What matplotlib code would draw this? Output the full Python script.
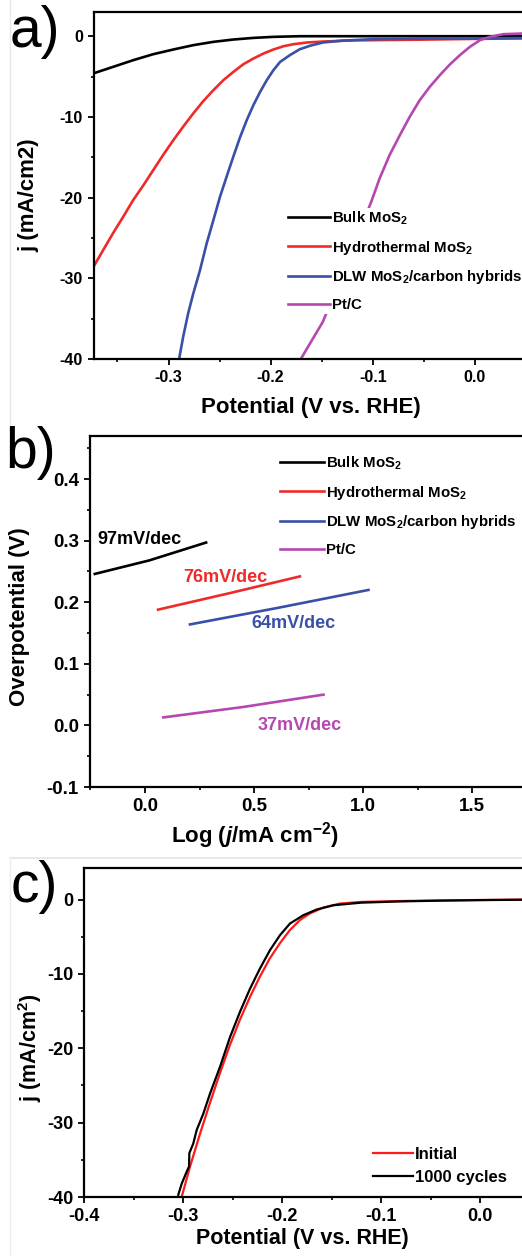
import matplotlib
matplotlib.use("Agg")
import matplotlib.pyplot as plt
from matplotlib.ticker import MultipleLocator
from matplotlib.lines import Line2D

plt.rcParams["font.family"] = ["Liberation Sans", "DejaVu Sans"]
plt.rcParams["font.weight"] = "bold"
plt.rcParams["axes.labelweight"] = "bold"
plt.rcParams["axes.unicode_minus"] = False
plt.rcParams["mathtext.fontset"] = "custom"
plt.rcParams["mathtext.rm"] = "Liberation Sans:bold"
plt.rcParams["mathtext.bf"] = "Liberation Sans:bold"
plt.rcParams["mathtext.it"] = "Liberation Sans:bold:italic"

# colores
BLACK = "#000000"
RED = "#ee2a2a"
BLUE = "#3a4fa8"
MAGENTA = "#b548b0"

# ---- datos panel a (polarizacion)
a_bulk_x = [-0.3739, -0.3543, -0.3346, -0.315, -0.2954, -0.2758, -0.2561, -0.2365, -0.2169, -0.1973,
            -0.171, -0.1, 0.0, 0.064]
a_bulk_y = [-4.62, -3.8, -2.97, -2.23, -1.65, -1.11, -0.70, -0.41, -0.21, -0.08,
            0.0, 0.0, 0.0, 0.0]
a_hydro_x = [-0.3739, -0.364, -0.3543, -0.3445, -0.3346, -0.3248, -0.315, -0.3052, -0.2954, -0.2856,
             -0.2758, -0.266, -0.2561, -0.2463, -0.2365, -0.2267, -0.2169, -0.2071, -0.1973, -0.1874,
             -0.1776, -0.1646, -0.1482, -0.12, -0.05, 0.0, 0.064]
a_hydro_y = [-28.65, -26.5, -24.4, -22.4, -20.3, -18.5, -16.6, -14.7, -12.9, -11.2,
             -9.57, -8.05, -6.69, -5.45, -4.42, -3.47, -2.77, -2.15, -1.65, -1.24,
             -0.99, -0.78, -0.66, -0.52, -0.42, -0.33, -0.25]
a_dlw_x = [-0.2895, -0.2856, -0.2807, -0.2758, -0.2692, -0.2627, -0.2561, -0.2496, -0.2431, -0.2365,
           -0.2299, -0.2234, -0.2169, -0.2103, -0.2038, -0.1973, -0.1907, -0.1812, -0.1717, -0.1619,
           -0.1489, -0.1292, -0.0998, -0.0507, 0.0, 0.064]
a_dlw_y = [-39.9, -37.2, -34.3, -31.9, -29.0, -25.7, -22.8, -19.9, -17.4, -14.9,
           -12.5, -10.4, -8.54, -6.9, -5.45, -4.21, -3.18, -2.35, -1.63, -1.2,
           -0.78, -0.54, -0.37, -0.29, -0.29, -0.2]
a_ptc_x = [-0.170, -0.1489, -0.125, -0.1014, -0.0932, -0.0834, -0.0736, -0.0638, -0.054, -0.0442,
           -0.0343, -0.0245, -0.0147, -0.0049, 0.0049, 0.0147, 0.0278, 0.046, 0.064]
a_ptc_y = [-39.9, -35.4, -28.0, -20.5, -17.6, -14.7, -12.3, -9.99, -7.93, -6.28,
           -4.83, -3.5, -2.35, -1.32, -0.5, -0.08, 0.25, 0.33, 0.35]

# ---- datos panel b (Tafel)
b_bulk_x = [-0.23, 0.02, 0.28]
b_bulk_y = [0.246, 0.268, 0.297]
b_hydro_x = [0.06, 0.39, 0.71]
b_hydro_y = [0.188, 0.215, 0.242]
b_dlw_x = [0.206, 0.61, 1.024]
b_dlw_y = [0.164, 0.191, 0.220]
b_ptc_x = [0.084, 0.451, 0.818]
b_ptc_y = [0.013, 0.030, 0.050]
b_slopes = ["97mV/dec", "76mV/dec", "64mV/dec", "37mV/dec"]

# ---- datos panel c (estabilidad)
c_init_x = [-0.3015, -0.2931, -0.283, -0.2731, -0.263, -0.2529, -0.2428, -0.2325, -0.2226, -0.2125,
            -0.2024, -0.1923, -0.1822, -0.1721, -0.1583, -0.1414, -0.12, -0.08, -0.04, 0.0, 0.061]
c_init_y = [-39.97, -35.9, -31.5, -27.4, -23.4, -19.6, -16.2, -13.1, -10.4, -7.93,
            -5.91, -4.13, -2.78, -1.88, -1.08, -0.54, -0.32, -0.2, -0.12, -0.06, 0.0]
c_cyc_x = [-0.305, -0.3015, -0.2965, -0.2941, -0.2938, -0.2898, -0.2864, -0.2797, -0.2729, -0.2628,
           -0.2527, -0.2426, -0.2325, -0.2224, -0.2123, -0.2022, -0.1921, -0.1786, -0.165, -0.1482,
           -0.12, -0.08, -0.04, 0.0, 0.061]
c_cyc_y = [-39.7, -38.2, -36.6, -35.9, -34.1, -32.8, -31.0, -28.8, -26.1, -22.5,
           -18.5, -15.1, -12.0, -9.27, -6.81, -4.80, -3.23, -2.11, -1.34, -0.77,
           -0.42, -0.25, -0.15, -0.08, 0.0]

labels = ["Bulk MoS$_2$", "Hydrothermal MoS$_2$", "DLW MoS$_2$/carbon hybrids", "Pt/C"]

W, H = 522, 1256
fig = plt.figure(figsize=(W / 100, H / 100), dpi=100)


def px_axes(l, t, r, b):
    return fig.add_axes([l / W, 1 - b / H, (r - l) / W, (b - t) / H])


def style(ax, tsize):
    for s in ["left", "bottom", "top"]:
        ax.spines[s].set_linewidth(1.6)
    ax.spines["right"].set_visible(False)
    ax.tick_params(which="major", direction="out", length=4, width=1.3, labelsize=tsize, pad=4)
    ax.tick_params(which="minor", direction="out", length=2.5, width=1.2)
    ax.tick_params(top=False, right=False)


lw = 1.9

# ---------------- a)
ax = px_axes(94, 12, 540, 359)
ax.plot(a_bulk_x, a_bulk_y, color=BLACK, lw=lw, label=labels[0])
ax.plot(a_hydro_x, a_hydro_y, color=RED, lw=lw, label=labels[1])
ax.plot(a_dlw_x, a_dlw_y, color=BLUE, lw=lw, label=labels[2])
ax.plot(a_ptc_x, a_ptc_y, color=MAGENTA, lw=lw, label=labels[3])
ax.set_xlim(-0.373, 0.0638)
ax.set_ylim(-40, 3)
ax.xaxis.set_major_locator(MultipleLocator(0.1))
ax.xaxis.set_minor_locator(MultipleLocator(0.05))
ax.yaxis.set_major_locator(MultipleLocator(10))
ax.yaxis.set_minor_locator(MultipleLocator(5))
ax.xaxis.set_major_formatter(plt.FuncFormatter(lambda v, p: f"{v:.1f}"))
style(ax, 11.5)
ax.set_xlabel("Potential (V vs. RHE)", fontsize=16)
ax.set_ylabel("j (mA/cm2)", fontsize=16)
ax.xaxis.set_label_coords((311 - 94) / 446, (359 - 397) / 347)
ax.yaxis.set_label_coords((39 - 94) / 446, (359 - 195) / 347)
ax.legend(loc="upper left", bbox_to_anchor=((286 - 94) / 446, (359 - 208) / 347),
          borderaxespad=0, borderpad=0.1, frameon=True, facecolor="white", edgecolor="none",
          framealpha=1, fancybox=False, fontsize=10.8, handlelength=2.8, handletextpad=0.15,
          labelspacing=0.78)

# ---------------- b)
ax = px_axes(90, 436, 540, 787)
ax.plot(b_bulk_x, b_bulk_y, color=BLACK, lw=lw, label=labels[0])
ax.plot(b_hydro_x, b_hydro_y, color=RED, lw=lw, label=labels[1])
ax.plot(b_dlw_x, b_dlw_y, color=BLUE, lw=lw, label=labels[2])
ax.plot(b_ptc_x, b_ptc_y, color=MAGENTA, lw=lw, label=labels[3])
ax.set_xlim(-0.252, 1.81)
ax.set_ylim(-0.1, 0.47)
ax.xaxis.set_major_locator(MultipleLocator(0.5))
ax.xaxis.set_minor_locator(MultipleLocator(0.25))
ax.yaxis.set_major_locator(MultipleLocator(0.1))
ax.yaxis.set_minor_locator(MultipleLocator(0.05))
ax.xaxis.set_major_formatter(plt.FuncFormatter(lambda v, p: f"{v:.1f}"))
ax.yaxis.set_major_formatter(plt.FuncFormatter(lambda v, p: f"{v:.1f}"))
style(ax, 13.5)
ax.set_xlabel(r"Log ($\it{j}$/mA cm$^{-2}$)", fontsize=16)
ax.set_ylabel("Overpotential (V)", fontsize=16)
ax.xaxis.set_label_coords((255 - 90) / 450, (787 - 820) / 351)
ax.yaxis.set_label_coords((30 - 90) / 450, (787 - 617) / 351)
ax.text(-0.22, 0.302, b_slopes[0], color=BLACK, fontsize=13, va="center", ha="left")
ax.text(0.174, 0.240, b_slopes[1], color=RED, fontsize=13, va="center", ha="left")
ax.text(0.489, 0.166, b_slopes[2], color=BLUE, fontsize=13, va="center", ha="left")
ax.text(0.518, 0.0, b_slopes[3], color=MAGENTA, fontsize=13, va="center", ha="left")
ax.legend(loc="upper left", bbox_to_anchor=((279 - 90) / 450, (787 - 453) / 351),
          borderaxespad=0, borderpad=0.1, frameon=False, fontsize=10.8, handlelength=2.9,
          handletextpad=0.15, labelspacing=0.78)

# ---------------- c)
ax = px_axes(84.3, 868.3, 540, 1197)
ax.plot(c_init_x, c_init_y, color="#ff1a1a", lw=1.6, label="Initial")
ax.plot(c_cyc_x, c_cyc_y, color=BLACK, lw=1.6, label="1000 cycles")
ax.set_xlim(-0.4, 0.0607)
ax.set_ylim(-40, 4.2)
ax.xaxis.set_major_locator(MultipleLocator(0.1))
ax.xaxis.set_minor_locator(MultipleLocator(0.05))
ax.yaxis.set_major_locator(MultipleLocator(10))
ax.yaxis.set_minor_locator(MultipleLocator(5))
ax.xaxis.set_major_formatter(plt.FuncFormatter(lambda v, p: f"{v:.1f}"))
style(ax, 13)
ax.set_xlabel("Potential (V vs. RHE)", fontsize=15.5)
ax.set_ylabel(r"j (mA/cm$^2$)", fontsize=15.5)
ax.xaxis.set_label_coords((302 - 84.3) / 455.7, (1197 - 1228) / 328.7)
ax.yaxis.set_label_coords((44 - 84.3) / 455.7, (1197 - 1048) / 328.7)
ax.legend(loc="upper left", bbox_to_anchor=((371 - 84.3) / 455.7, (1197 - 1145) / 328.7),
          borderaxespad=0, borderpad=0.1, frameon=True, facecolor="white", edgecolor="none",
          framealpha=1, fancybox=False, fontsize=12, handlelength=2.4, handletextpad=0.15,
          labelspacing=0.5)

# letras de panel
fig.text(10 / W, 1 - 5 / H, "a)", fontsize=41, fontweight="normal", va="top", ha="left")
fig.text(5 / W, 1 - 426 / H, "b)", fontsize=41, fontweight="normal", va="top", ha="left")
fig.text(11 / W, 1 - 860 / H, "c)", fontsize=41, fontweight="normal", va="top", ha="left")

# bordes tenues de la captura
fig.add_artist(Line2D([10 / W, 10 / W], [1, 1 - 424 / H], color="#e8e8e8", lw=1))
fig.add_artist(Line2D([10 / W, 1], [1 - 858 / H, 1 - 858 / H], color="#e4e4e4", lw=1.2))
fig.add_artist(Line2D([10 / W, 10 / W], [1 - 858 / H, 0], color="#ececec", lw=1))

plt.savefig("out.png", dpi=100)
